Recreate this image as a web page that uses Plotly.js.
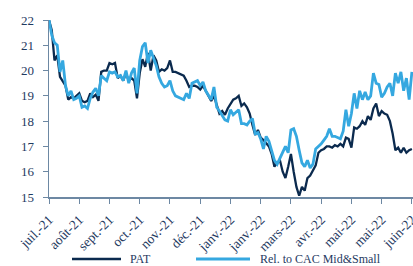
<!DOCTYPE html>
<html><head><meta charset="utf-8">
<script src="https://cdn.plot.ly/plotly-3.0.1.min.js"></script>
<style>html,body{margin:0;padding:0;background:#fff;}#chart{width:413px;height:266px;}</style>
</head><body><div id="chart"></div>
<script>
const tickLabels = ['juil.-21','août-21','sept.-21','oct.-21','nov.-21','déc.-21','janv.-22','janv.-22','mars-22','avr.-22','mai-22','mai-22','juin-22'];
const seriesNames = ['PAT', 'Rel. to CAC Mid&Small'];
const pointsPerTick = 11;
const yTicks = [15,16,17,18,19,20,21,22];
const pat = [22.0,21.6,20.4,20.6,19.75,19.6,19.4,18.85,18.95,18.9,19.0,19.1,18.8,18.75,18.8,19.1,18.95,19.05,18.8,19.95,
20.0,20.0,20.3,20.25,20.3,19.7,19.8,19.6,19.9,19.6,19.7,19.6,18.9,19.9,20.45,20.15,20.7,20.0,20.6,20.4,
19.95,20.05,20.0,20.1,20.4,19.95,19.95,19.9,19.85,19.8,19.6,19.35,19.4,19.4,19.35,19.25,19.4,19.2,19.0,18.8,
19.0,18.6,18.3,18.4,18.25,18.5,18.7,18.85,18.9,19.0,18.6,18.7,18.55,18.3,17.85,17.45,17.65,17.35,17.25,17.1,
17.0,16.7,16.2,16.35,16.45,16.0,15.75,16.2,16.7,16.0,15.4,15.05,15.4,15.25,15.75,15.85,16.05,16.25,16.75,16.85,
16.9,17.0,17.0,16.95,17.05,17.0,17.1,17.0,17.35,17.3,16.95,17.75,17.7,17.8,18.0,17.85,18.2,18.05,18.5,18.7,
18.2,18.4,18.3,18.25,18.0,17.5,16.85,16.95,16.75,16.95,16.75,16.85,16.9];
const rel = [22.0,21.4,21.1,21.0,19.95,20.4,19.4,19.0,19.2,18.85,18.9,19.0,18.55,18.6,18.5,18.9,19.15,19.3,19.0,19.8,
19.7,19.6,19.95,19.9,19.95,19.75,19.8,19.6,20.0,19.5,19.9,20.1,19.1,20.4,20.95,21.1,20.3,20.8,20.5,20.2,
19.75,19.5,19.35,19.4,19.6,19.2,19.0,18.95,18.9,18.85,19.1,18.9,19.5,19.55,19.6,19.4,19.55,19.2,19.0,18.85,
19.35,18.55,18.4,18.2,18.05,18.0,18.45,18.25,18.35,18.45,17.9,17.9,17.85,18.0,18.1,17.5,17.55,17.3,16.9,17.4,
17.2,16.8,16.45,16.3,16.55,16.8,17.0,16.75,17.65,17.7,17.4,16.85,16.35,16.2,16.45,16.15,16.3,16.9,17.0,17.1,
17.25,17.4,17.7,17.4,17.4,17.35,17.3,17.6,18.45,17.8,18.3,19.1,18.5,19.2,18.85,19.15,18.85,19.0,19.9,19.5,
19.45,18.95,19.1,19.35,19.5,19.0,19.9,19.5,19.95,19.2,19.7,18.85,19.95];

const idx = pat.map((_, i) => i);
const tickVals = tickLabels.map((_, i) => i * pointsPerTick);
const fontFam = '"Liberation Serif", "DejaVu Serif", serif';
const navy = '#1f3a5f';
const axisCol = '#6d88a3';
const colPat = '#0b2a4e', colRel = '#35a8e0';

// legend drawn in paper coordinates (plot area: 49..413 px wide, 20..197 px tall)
const px = v => (v - 49) / 364;
const py = v => (197 - v) / 177;
const legY = 259;

Plotly.newPlot('chart', [
  {x: idx, y: pat, type: 'scatter', mode: 'lines', name: seriesNames[0], line: {color: colPat, width: 2.3}},
  {x: idx, y: rel, type: 'scatter', mode: 'lines', name: seriesNames[1], line: {color: colRel, width: 2.8}}
], {
  width: 413, height: 266,
  margin: {l: 49, r: 0, t: 20, b: 69},
  paper_bgcolor: '#fff', plot_bgcolor: '#fff',
  font: {family: fontFam, size: 12, color: navy},
  showlegend: false,
  shapes: [
    {type: 'line', xref: 'paper', yref: 'paper', x0: px(72), x1: px(121), y0: py(legY), y1: py(legY), line: {color: colPat, width: 2.3}},
    {type: 'line', xref: 'paper', yref: 'paper', x0: px(196), x1: px(250), y0: py(legY), y1: py(legY), line: {color: colRel, width: 2.8}}
  ],
  annotations: [
    {xref: 'paper', yref: 'paper', x: px(128), y: py(legY), xanchor: 'left', yanchor: 'middle', showarrow: false, text: seriesNames[0], font: {family: fontFam, size: 12, color: navy}},
    {xref: 'paper', yref: 'paper', x: px(258), y: py(legY), xanchor: 'left', yanchor: 'middle', showarrow: false, text: seriesNames[1], font: {family: fontFam, size: 12, color: navy}}
  ],
  xaxis: {range: [0, 132.4], tickvals: tickVals, ticktext: tickLabels, tickangle: -45, showgrid: false, zeroline: false,
    showline: true, linecolor: axisCol, linewidth: 1.5, ticks: 'outside', ticklen: 5, tickcolor: axisCol,
    ticklabeloverflow: 'allow', ticklabelstandoff: 3,
    tickfont: {family: fontFam, size: 13.5, color: navy}},
  yaxis: {range: [15, 22], tickvals: yTicks, showgrid: false, zeroline: false,
    showline: true, linecolor: axisCol, linewidth: 1.5, ticks: 'outside', ticklen: 5, tickcolor: axisCol,
    ticklabelstandoff: 6,
    tickfont: {family: fontFam, size: 13, color: navy}}
}, {displayModeBar: false, staticPlot: true});
</script></body></html>
